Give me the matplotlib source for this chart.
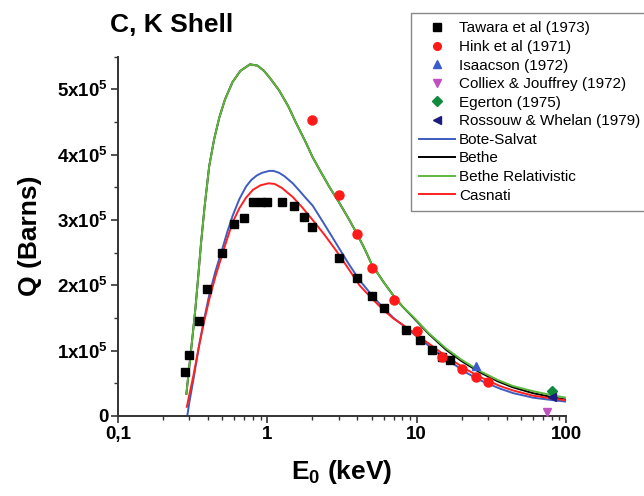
import matplotlib
matplotlib.use("Agg")
import matplotlib.pyplot as plt
from matplotlib.ticker import FixedLocator, NullFormatter

plt.rcParams['font.family'] = ['Liberation Sans', 'DejaVu Sans']
plt.rcParams['font.weight'] = 'bold'
plt.rcParams['mathtext.fontset'] = 'custom'
plt.rcParams['mathtext.rm'] = 'Liberation Sans:bold'
plt.rcParams['mathtext.bf'] = 'Liberation Sans:bold'
plt.rcParams['mathtext.it'] = 'Liberation Sans:bold'
plt.rcParams['mathtext.default'] = 'rm'

# ---------------- data (Q in units of 1e5 barns) ----------------
tawara_x = [0.282, 0.30, 0.348, 0.396, 0.50, 0.60, 0.70, 0.80, 0.90, 1.0, 1.25, 1.5, 1.75, 2.0,
            3.0, 4.0, 5.0, 6.0, 8.5, 10.5, 12.6, 14.7, 16.7]
tawara_y = [0.68, 0.94, 1.45, 1.94, 2.50, 2.93, 3.03, 3.27, 3.27, 3.28, 3.27, 3.21, 3.05, 2.89,
            2.41, 2.11, 1.83, 1.65, 1.32, 1.17, 1.01, 0.91, 0.85]

hink_x = [2.0, 3.0, 4.0, 5.0, 7.0, 10.0, 14.8, 20.0, 25.0, 30.0]
hink_y = [4.53, 3.38, 2.78, 2.26, 1.77, 1.30, 0.91, 0.72, 0.60, 0.52]

isaacson_x = [25.0]
isaacson_y = [0.76]
colliex_x = [75.0]
colliex_y = [0.06]
egerton_x = [80.0]
egerton_y = [0.39]
rossouw_x = [80.0]
rossouw_y = [0.29]

bote_x = [0.291, 0.30, 0.32, 0.349, 0.375, 0.408, 0.45, 0.50, 0.54, 0.585, 0.65, 0.72, 0.78, 0.85,
          0.92, 1.03, 1.1, 1.2, 1.3, 1.48, 1.65, 1.8, 2.01, 2.4, 2.89, 3.5, 4.14, 5.0, 6.0, 7.0,
          8.5, 10.0, 12.9, 15.8, 21.6, 26.4, 36.0, 44.3, 60.3, 80.0, 100.0]
bote_y = [0.0, 0.20, 0.56, 1.08, 1.45, 1.85, 2.22, 2.56, 2.82, 3.06, 3.32, 3.51, 3.61, 3.68,
          3.72, 3.75, 3.75, 3.72, 3.67, 3.56, 3.44, 3.34, 3.22, 2.94, 2.64, 2.33, 2.08, 1.85,
          1.65, 1.50, 1.35, 1.22, 1.02, 0.87, 0.66, 0.55, 0.42, 0.35, 0.28, 0.245, 0.22]

casnati_x = [0.289, 0.30, 0.32, 0.349, 0.375, 0.408, 0.45, 0.50, 0.54, 0.585, 0.65, 0.72, 0.80,
             0.90, 1.02, 1.12, 1.25, 1.48, 1.7, 2.01, 2.4, 2.89, 3.5, 4.14, 5.0, 6.0, 7.0, 8.5,
             10.0, 12.9, 15.8, 21.6, 26.4, 36.0, 44.3, 60.3, 80.0, 100.0]
casnati_y = [0.14, 0.32, 0.62, 1.07, 1.42, 1.78, 2.14, 2.48, 2.72, 2.96, 3.18, 3.34, 3.46,
             3.53, 3.56, 3.55, 3.49, 3.35, 3.20, 3.00, 2.78, 2.53, 2.25, 2.00, 1.80, 1.62, 1.49,
             1.36, 1.24, 1.06, 0.91, 0.71, 0.60, 0.46, 0.39, 0.31, 0.27, 0.24]

bethe_rel_x = [0.287, 0.30, 0.315, 0.33, 0.345, 0.36, 0.38, 0.408, 0.44, 0.476, 0.52, 0.585, 0.66,
               0.765, 0.86, 0.95, 1.05, 1.2, 1.38, 1.56, 1.78, 2.01, 2.3, 2.61, 3.0, 3.5, 4.0,
               4.5, 5.0, 6.0, 7.0, 8.0, 9.46, 12.0, 15.8, 20.0, 26.4, 35.0, 44.0, 60.0, 80.0,
               100.0]
bethe_rel_y = [0.34, 0.75, 1.20, 1.65, 2.15, 2.65, 3.20, 3.82, 4.23, 4.56, 4.84, 5.11, 5.28,
               5.38, 5.36, 5.28, 5.16, 4.98, 4.74, 4.48, 4.22, 3.96, 3.72, 3.50, 3.28, 3.02,
               2.78, 2.55, 2.32, 2.05, 1.84, 1.68, 1.52, 1.27, 1.03, 0.86, 0.69, 0.55, 0.46,
               0.38, 0.32, 0.28]

bethe_x = [0.287, 0.30, 0.315, 0.33, 0.345, 0.36, 0.38, 0.408, 0.44, 0.476, 0.52, 0.585, 0.66,
           0.765, 0.86, 0.95, 1.05, 1.2, 1.38, 1.56, 1.78, 2.01, 2.3, 2.61, 3.0, 3.5, 4.0,
           4.5, 5.0, 6.0, 7.0, 8.0, 9.46, 12.0, 15.8, 20.0, 26.4, 35.0, 44.0, 60.0, 80.0, 100.0]
bethe_y = [0.34, 0.75, 1.20, 1.65, 2.15, 2.65, 3.20, 3.82, 4.23, 4.56, 4.84, 5.11, 5.28,
           5.38, 5.36, 5.28, 5.16, 4.98, 4.74, 4.48, 4.22, 3.96, 3.72, 3.50, 3.28, 3.02,
           2.78, 2.55, 2.32, 2.05, 1.84, 1.68, 1.51, 1.26, 1.01, 0.84, 0.67, 0.53, 0.44,
           0.35, 0.29, 0.25]

x_ticks = [0.1, 1, 10, 100]
x_ticklabels = ['0,1', '1', '10', '100']
y_ticks = [0, 1, 2, 3, 4, 5]
y_ticklabels = ['0', '1x10$^5$', '2x10$^5$', '3x10$^5$', '4x10$^5$', '5x10$^5$']

SCALE = 1e5

# ---------------- figure ----------------
fig = plt.figure(figsize=(6.44, 4.96), dpi=100)
ax = fig.add_axes([118/644, 1 - 416/496, (566-118)/644, (416-56.5)/496])

lw = 1.4
ax.plot(bote_x, [v*SCALE for v in bote_y], color='#3d5cc0', lw=lw, label='Bote-Salvat', zorder=2)
ax.plot(bethe_x, [v*SCALE for v in bethe_y], color='black', lw=lw, label='Bethe', zorder=2)
ax.plot(bethe_rel_x, [v*SCALE for v in bethe_rel_y], color='#5db83c', lw=lw, label='Bethe Relativistic', zorder=2.1)
ax.plot(casnati_x, [v*SCALE for v in casnati_y], color='#ff2020', lw=lw, label='Casnati', zorder=2.2)

ms = 6
ax.plot(tawara_x, [v*SCALE for v in tawara_y], 's', color='black', ms=ms, ls='none',
        label='Tawara et al (1973)', zorder=3)
ax.plot(hink_x, [v*SCALE for v in hink_y], 'o', color='#ff1a1a', ms=ms+0.5, ls='none',
        label='Hink et al (1971)', zorder=3)
ax.plot(isaacson_x, [v*SCALE for v in isaacson_y], '^', color='#3a5ccc', ms=ms, ls='none',
        label='Isaacson (1972)', zorder=3)
ax.plot(colliex_x, [v*SCALE for v in colliex_y], 'v', color='#c250c0', ms=ms, ls='none',
        label='Colliex & Jouffrey (1972)', zorder=3, clip_on=False)
ax.plot(egerton_x, [v*SCALE for v in egerton_y], 'D', color='#108a3c', ms=ms-0.5, ls='none',
        label='Egerton (1975)', zorder=3)
ax.plot(rossouw_x, [v*SCALE for v in rossouw_y], '<', color='#1c1c80', ms=ms, ls='none',
        label='Rossouw & Whelan (1979)', zorder=3)

ax.set_xscale('log')
ax.set_xlim(0.1, 100)
ax.set_ylim(0, 5.5*SCALE)

ax.xaxis.set_major_locator(FixedLocator(x_ticks))
ax.set_xticklabels(x_ticklabels)
minors = [m * 10.0**d for d in (-1, 0, 1) for m in range(2, 10)]
ax.xaxis.set_minor_locator(FixedLocator(minors))
ax.xaxis.set_minor_formatter(NullFormatter())

ax.yaxis.set_major_locator(FixedLocator([v*SCALE for v in y_ticks]))
ax.set_yticklabels(y_ticklabels)
ax.yaxis.set_minor_locator(FixedLocator([(v + 0.5)*SCALE for v in range(0, 6)]))

for s in ['top', 'right']:
    ax.spines[s].set_visible(False)
for s in ['left', 'bottom']:
    ax.spines[s].set_linewidth(1.4)
    ax.spines[s].set_color('#333333')

ax.tick_params(which='major', direction='out', length=5, width=1.2, color='#333333',
               labelsize=13.5, pad=2)
ax.tick_params(which='minor', direction='out', length=3, width=1.0, color='#333333')
for lab in ax.get_xticklabels() + ax.get_yticklabels():
    lab.set_fontweight('bold')

ax.set_xlabel('E$_0$ (keV)', fontsize=19, fontweight='bold', labelpad=11)
ax.set_ylabel('Q (Barns)', fontsize=19, fontweight='bold', labelpad=11)

fig.text(110/644, 1 - 25/496, 'C, K Shell', fontsize=19, fontweight='bold', ha='left', va='center')

handles, labels = ax.get_legend_handles_labels()
order = [4, 5, 6, 7, 8, 9, 0, 1, 2, 3]
leg = fig.legend([handles[i] for i in order], [labels[i] for i in order],
                 loc='upper left', bbox_to_anchor=(411/644, 1 - 13/496),
                 prop={'family': 'Liberation Sans', 'weight': 'normal', 'size': 11},
                 frameon=True, fancybox=False, edgecolor='#888888', framealpha=1,
                 handlelength=2.3, handletextpad=0.3, labelspacing=0.3,
                 borderpad=0.55, borderaxespad=0, numpoints=1, markerscale=0.85)
leg.get_frame().set_linewidth(1.0)

fig.savefig('out.png', dpi=100)
